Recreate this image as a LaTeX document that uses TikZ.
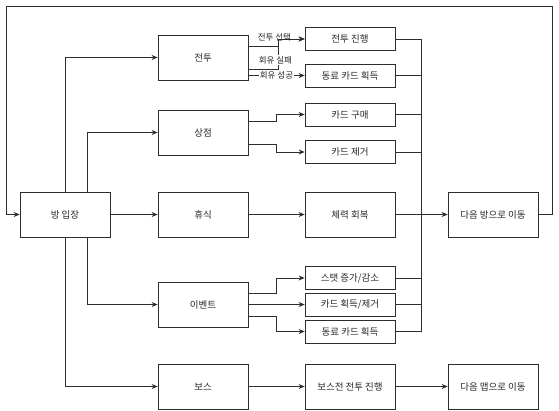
\documentclass[tikz,border=0pt]{standalone}
\usepackage{fontspec}
\setmainfont{Noto Sans CJK KR}
\usepackage{tikz}
\usetikzlibrary{arrows.meta,positioning}
\usepackage{xcolor}
\definecolor{flline}{RGB}{45,45,45}
\definecolor{fltext}{RGB}{40,40,40}
\tikzstyle{arrow} = [->,>={Stealth[length=6pt,width=5pt]},color=flline]
\tikzstyle{line} = [color=flline]
\tikzstyle{stagebox} = [rectangle, minimum width=90pt, minimum height=45pt, inner sep=0pt, text centered, draw=flline, text=fltext, font=\fontsize{9.5}{11}\selectfont]
\tikzstyle{resultbox} = [stagebox, minimum height=23pt]
\tikzstyle{edgelabel} = [fill=white, inner sep=1pt, text=fltext, font=\fontsize{8.5}{10}\selectfont]

\begin{document}
\begin{tikzpicture}[node distance=138pt, line width=0.75pt]
\useasboundingbox (0,0) rectangle (559pt,-410pt);
% Rooms
\node (entry) [stagebox] at (65pt,-214.5pt) {방 입장};
\node (rest) [stagebox, right of=entry] {휴식};
\node (battle) [stagebox, above of=rest, node distance=157pt] {전투};
\node (shop) [stagebox, above of=rest, node distance=82pt] {상점};
\node (event) [stagebox, below of=rest, node distance=90pt] {이벤트};
\node (boss) [stagebox, below of=rest, node distance=172pt] {보스};

% Outcomes
\node (heal) [stagebox, right of=rest, node distance=147pt] {체력 회복};
\node (fight) [resultbox, above of=heal, node distance=175.5pt] {전투 진행};
\node (ally1) [resultbox, above of=heal, node distance=139pt] {동료 카드 획득};
\node (buy) [resultbox, above of=heal, node distance=100pt] {카드 구매};
\node (remove) [resultbox, above of=heal, node distance=62.5pt] {카드 제거};
\node (stat) [resultbox, below of=heal, node distance=63.5pt] {스탯 증가/감소};
\node (cardev) [resultbox, below of=heal, node distance=90pt] {카드 획득/제거};
\node (ally2) [resultbox, below of=heal, node distance=117pt] {동료 카드 획득};
\node (bossfight) [stagebox, right of=boss, node distance=147pt] {보스전 전투 진행};

% Next
\node (nextroom) [stagebox, right of=heal, node distance=143pt] {다음 방으로 이동};
\node (nextmap) [stagebox, right of=bossfight, node distance=143pt] {다음 맵으로 이동};
\coordinate (merge) at ([xshift=26pt]heal.east);
\coordinate (corner) at (6pt,-6pt);

\draw[arrow] (entry.north) |- (battle);
\draw[arrow] ([xshift=22.5pt]entry.north) |- (shop);
\draw[arrow] (entry) -- (rest);
\draw[arrow] ([xshift=22.5pt]entry.south) |- (event);
\draw[arrow] (entry.south) |- (boss);

\draw[arrow] ([yshift=11.5pt]battle.east) -- ++(30pt,0) |- node[edgelabel, pos=0.5, xshift=-4pt, yshift=2pt] {전투 선택} (fight);
\draw[arrow] ([yshift=-11.5pt]battle.east) -- ++(30pt,0) |- node[edgelabel, pos=0.15, xshift=-3pt] {회유 실패} (fight);
\draw[arrow] (battle.east |- ally1) -- node[edgelabel] {회유 성공} (ally1);

\draw[arrow] ([yshift=11.5pt]shop.east) -- ++(28pt,0) |- (buy);
\draw[arrow] ([yshift=-11.5pt]shop.east) -- ++(28pt,0) |- (remove);
\draw[arrow] (rest) -- (heal);
\draw[arrow] ([yshift=11.5pt]event.east) -- ++(28pt,0) |- (stat);
\draw[arrow] (event) -- (cardev);
\draw[arrow] ([yshift=-11.5pt]event.east) -- ++(28pt,0) |- (ally2);
\draw[arrow] (boss) -- (bossfight);

\draw[line] (fight.east) -| (merge);
\draw[line] (ally1.east) -| (merge);
\draw[line] (buy.east) -| (merge);
\draw[line] (remove.east) -| (merge);
\draw[line] (stat.east) -| (merge);
\draw[line] (cardev.east) -| (merge);
\draw[line] (ally2.east) -| (merge);
\draw[arrow] (heal) -- (nextroom);
\draw[arrow] (bossfight) -- (nextmap);

\draw[arrow] (nextroom.east) -- ++(14pt,0) |- (corner) |- (entry);
\end{tikzpicture}
\end{document}
